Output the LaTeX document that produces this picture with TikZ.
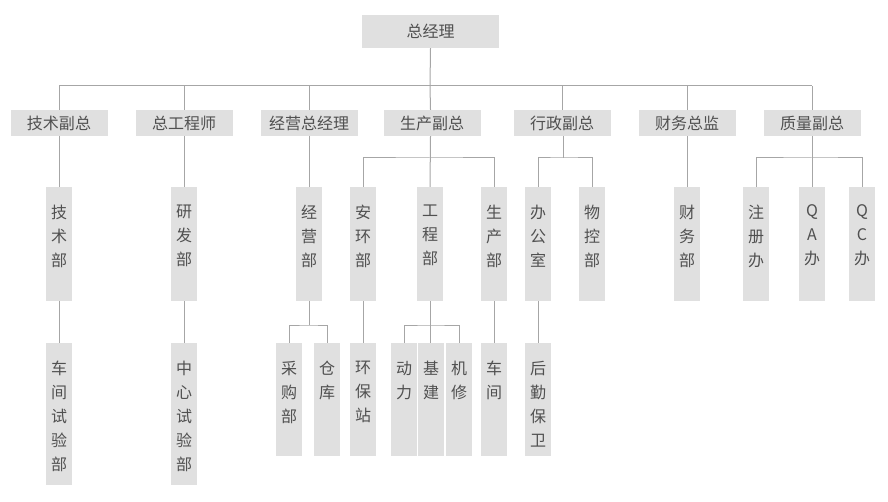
\documentclass[tikz,border=0pt]{standalone}
\usepackage{fontspec}
\setmainfont{Noto Sans CJK SC}
\usepackage{tikz}
\usetikzlibrary{calc}

\definecolor{boxgray}{RGB}{224,224,224}
\definecolor{linegray}{RGB}{166,166,166}
\definecolor{txtgray}{RGB}{80,80,80}

\begin{document}
\begin{tikzpicture}[x=1pt, y=-1pt,
    hbox/.style={fill=boxgray, text=txtgray, inner sep=0pt, minimum width=97pt, minimum height=26pt, font=\fontsize{16}{20}\selectfont},
    vbox/.style={fill=boxgray, inner sep=0pt, minimum width=26pt, minimum height=#1},
    vtxt/.style={anchor=north, align=center, inner sep=0pt, text=txtgray, font=\fontsize{16}{24}\selectfont, yshift=-18pt},
    link/.style={draw=linegray, line width=1pt}]
        \useasboundingbox (0,0) rectangle (888,502);

        % Top
        \node[hbox, minimum width=137pt, minimum height=33pt] (gm) at (430.5,31.5) {总经理};

        % Level 2
        \node[hbox] (jsfz) at (59,123) {技术副总};
        \node[hbox] (zgcs) at (184,123) {总工程师};
        \node[hbox] (jyzjl) at (309,123) {经营总经理};
        \node[hbox] (scfz) at (432,123) {生产副总};
        \node[hbox] (xzfz) at (562,123) {行政副总};
        \node[hbox] (cwzj) at (687,123) {财务总监};
        \node[hbox] (zlfz) at (812,123) {质量副总};

        % Level 3
        \node[vbox=114pt, label={[vtxt]north:技\\术\\部}] (jsb) at (59,244) {};
        \node[vbox=114pt, label={[vtxt]north:研\\发\\部}] (yfb) at (184,244) {};
        \node[vbox=114pt, label={[vtxt]north:经\\营\\部}] (jyb) at (309,244) {};
        \node[vbox=114pt, label={[vtxt]north:安\\环\\部}] (ahb) at (363,244) {};
        \node[vbox=114pt, label={[vtxt]north:工\\程\\部}] (gcb) at (430,244) {};
        \node[vbox=114pt, label={[vtxt]north:生\\产\\部}] (scb) at (494,244) {};
        \node[vbox=114pt, label={[vtxt]north:办\\公\\室}] (bgs) at (538,244) {};
        \node[vbox=114pt, label={[vtxt]north:物\\控\\部}] (wkb) at (592,244) {};
        \node[vbox=114pt, label={[vtxt]north:财\\务\\部}] (cwb) at (687,244) {};
        \node[vbox=114pt, label={[vtxt]north:注\\册\\办}] (zcb) at (756,244) {};
        \node[vbox=114pt, label={[vtxt]north:Q\\A\\办}] (qab) at (812,244) {};
        \node[vbox=114pt, label={[vtxt]north:Q\\C\\办}] (qcb) at (862,244) {};

        % Level 4
        \node[vbox=142pt, label={[vtxt]north:车\\间\\试\\验\\部}] (cjsyb) at (59,414) {};
        \node[vbox=142pt, label={[vtxt]north:中\\心\\试\\验\\部}] (zxsyb) at (184,414) {};
        \node[vbox=113pt, label={[vtxt]north:采\\购\\部}] (cgb) at (289,399.5) {};
        \node[vbox=113pt, label={[vtxt]north:仓\\库}] (ck) at (327,399.5) {};
        \node[vbox=113pt, label={[vtxt]north:环\\保\\站}] (hbz) at (363,399.5) {};
        \node[vbox=113pt, label={[vtxt]north:动\\力}] (dl) at (404,399.5) {};
        \node[vbox=113pt, label={[vtxt]north:基\\建}] (jj) at (431,399.5) {};
        \node[vbox=113pt, label={[vtxt]north:机\\修}] (jx) at (459,399.5) {};
        \node[vbox=113pt, label={[vtxt]north:车\\间}] (cj) at (494,399.5) {};
        \node[vbox=113pt, label={[vtxt]north:后\\勤\\保\\卫}] (hqbw) at (538,399.5) {};

        % Buses
        \coordinate (bus) at (430,86);
        \coordinate (scbus) at (430,158);
        \coordinate (xzbus) at (563,158);
        \coordinate (zlbus) at (812,158);
        \coordinate (jybus) at (309,325);
        \coordinate (gcbus) at (430,325);

        % Links
        \draw[link] (gm.south) -- (bus);
        \draw[link] (jsfz.north |- bus) -- (zlfz.north |- bus);
        \foreach \n in {jsfz, zgcs, jyzjl, xzfz, cwzj, zlfz}
            \draw[link] (\n.north) -- (\n.north |- bus);
        \draw[link] (gm.south |- scfz.north) -- (bus);
        \draw[link] (jsfz.south) -- (jsb.north);
        \draw[link] (zgcs.south) -- (yfb.north);
        \draw[link] (jyzjl.south) -- (jyb.north);
        \draw[link] (cwzj.south -| cwb.north) -- (cwb.north);
        \draw[link] (gm.south |- scfz.south) -- (gcb.north);
        \draw[link] (ahb.north) |- (scbus) -| (scb.north);
        \draw[link] (xzbus |- xzfz.south) -- (xzbus);
        \draw[link] (bgs.north) |- (xzbus) -| (wkb.north);
        \draw[link] (zlfz.south) -- (qab.north);
        \draw[link] (zcb.north) |- (zlbus) -| (qcb.north);
        \draw[link] (jsb.south) -- (cjsyb.north);
        \draw[link] (yfb.south) -- (zxsyb.north);
        \draw[link] (jyb.south) -- (jybus);
        \draw[link] (cgb.north) |- (jybus) -| (ck.north);
        \draw[link] (ahb.south) -- (hbz.north);
        \draw[link] (gcb.south) -- (gcb.south |- jj.north);
        \draw[link] (dl.north) |- (gcbus) -| (jx.north);
        \draw[link] (scb.south) -- (cj.north);
        \draw[link] (bgs.south) -- (hqbw.north);
    \end{tikzpicture}
\end{document}
